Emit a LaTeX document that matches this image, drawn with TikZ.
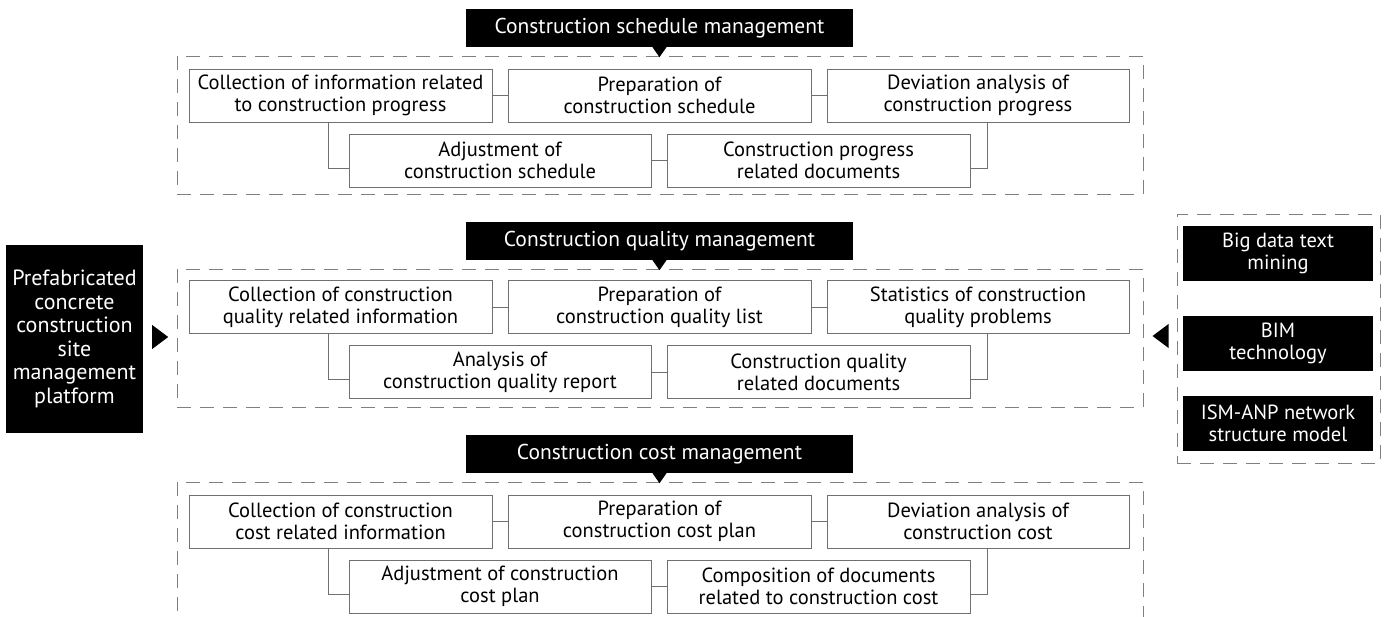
\documentclass[tikz,border=0pt]{standalone}
\usepackage{fontspec}
\setmainfont{PT Sans}
\definecolor{edge}{HTML}{707070}
\definecolor{dash}{HTML}{808080}
\tikzset{
  txt/.style={font=\fontsize{20.5}{22}\selectfont},
  wbox/.style={draw=edge, line width=0.9pt, fill=white, minimum height=53pt, inner sep=0pt, align=center, txt},
  title/.style={fill=black, text=white, minimum width=387pt, minimum height=38pt, inner sep=0pt, align=center, font=\fontsize{21.5}{23}\selectfont},
  bbox/.style={fill=black, text=white, inner sep=0pt, align=center, font=\fontsize{20.5}{22.5}\selectfont},
  frame/.style={draw=dash, line width=0.9pt, dash pattern=on 14pt off 9pt, inner sep=0pt},
  link/.style={draw=edge, line width=0.9pt},
}
\begin{document}
\begin{tikzpicture}[x=1pt,y=-1pt]
\clip (0,0) rectangle (1387,616);
\fill[white] (0,0) rectangle (1387,616);
\foreach \dy/\p in {0/s,213/q,426/c}{
  \begin{scope}[yshift=-\dy pt]
    \node[frame, minimum width=966pt, minimum height=138pt] (\p f) at (660,125) {};
  \end{scope}
}
% ---------- schedule ----------
\node[title] (st) at (659.5,28) {Construction schedule management};
\fill ([xshift=-7pt]st.south) -- ([xshift=7pt]st.south) -- ([yshift=-10pt]st.south) -- cycle;
\node[wbox, minimum width=303pt] (s1) at (340.5,95.5) {Collection of information related\\to construction progress};
\node[wbox, minimum width=303pt] (s2) at (659.5,95.5) {Preparation of\\construction schedule};
\node[wbox, minimum width=302pt] (s3) at (978,95.5) {Deviation analysis of\\construction progress};
\node[wbox, minimum width=302pt] (s4) at (500,160.5) {Adjustment of\\construction schedule};
\node[wbox, minimum width=303pt] (s5) at (818.5,160.5) {Construction progress\\related documents};
\draw[link] (s1) -- (s2);
\draw[link] (s2) -- (s3);
\draw[link] (s4) -- (s5);
\draw[link] ([xshift=-20pt]s4.west |- s1.south) |- ([yshift=-7.5pt]s4.west);
\draw[link] ([xshift=17pt]s5.east |- s3.south) |- ([yshift=-7.5pt]s5.east);
% ---------- quality ----------
\node[title] (qt) at (659.5,241) {Construction quality management};
\fill ([xshift=-7pt]qt.south) -- ([xshift=7pt]qt.south) -- ([yshift=-10pt]qt.south) -- cycle;
\node[wbox, minimum width=303pt] (q1) at (340.5,307) {Collection of construction\\quality related information};
\node[wbox, minimum width=303pt] (q2) at (659.5,307) {Preparation of\\construction quality list};
\node[wbox, minimum width=302pt] (q3) at (978,307) {Statistics of construction\\quality problems};
\node[wbox, minimum width=302pt] (q4) at (500,372) {Analysis of\\construction quality report};
\node[wbox, minimum width=303pt] (q5) at (818.5,372) {Construction quality\\related documents};
\draw[link] (q1) -- (q2);
\draw[link] (q2) -- (q3);
\draw[link] (q4) -- (q5);
\draw[link] ([xshift=-20pt]q4.west |- q1.south) |- ([yshift=-7.5pt]q4.west);
\draw[link] ([xshift=17pt]q5.east |- q3.south) |- ([yshift=-7.5pt]q5.east);
% ---------- cost ----------
\node[title] (ct) at (659.5,454) {Construction cost management};
\fill ([xshift=-7pt]ct.south) -- ([xshift=7pt]ct.south) -- ([yshift=-10pt]ct.south) -- cycle;
\node[wbox, minimum width=303pt] (c1) at (340.5,521.5) {Collection of construction\\cost related information};
\node[wbox, minimum width=303pt] (c2) at (659.5,521.5) {Preparation of\\construction cost plan};
\node[wbox, minimum width=302pt] (c3) at (978,521.5) {Deviation analysis of\\construction cost};
\node[wbox, minimum width=302pt] (c4) at (500,586.5) {Adjustment of construction\\cost plan};
\node[wbox, minimum width=303pt] (c5) at (818.5,586.5) {Composition of documents\\related to construction cost};
\draw[link] (c1) -- (c2);
\draw[link] (c2) -- (c3);
\draw[link] (c4) -- (c5);
\draw[link] ([xshift=-20pt]c4.west |- c1.south) |- ([yshift=-7.5pt]c4.west);
\draw[link] ([xshift=17pt]c5.east |- c3.south) |- ([yshift=-7.5pt]c5.east);
% ---------- platform ----------
\node[bbox, minimum width=137pt, minimum height=188pt, font=\fontsize{22}{23.6}\selectfont] (pl) at (74.5,339) {Prefabricated\\concrete\\construction\\site\\management\\platform};
\fill ([xshift=9pt,yshift=14pt]pl.east) -- ([xshift=9pt,yshift=-10pt]pl.east) -- ([xshift=25pt,yshift=2pt]pl.east) -- cycle;
% ---------- tools ----------
\node[frame, minimum width=203pt, minimum height=249pt] (tf) at (1278.5,338.5) {};
\node[bbox, minimum width=190pt, minimum height=55pt] (t1) at (1278,253.5) {Big data text\\mining};
\node[bbox, minimum width=190pt, minimum height=55pt] (t2) at (1278,343.5) {BIM\\technology};
\node[bbox, minimum width=190pt, minimum height=55pt] (t3) at (1278,423.5) {ISM-ANP network\\structure model};
\fill ([xshift=-8pt,yshift=14.5pt]tf.west) -- ([xshift=-8pt,yshift=-9.5pt]tf.west) -- ([xshift=-24pt,yshift=2.5pt]tf.west) -- cycle;
\end{tikzpicture}
\end{document}
